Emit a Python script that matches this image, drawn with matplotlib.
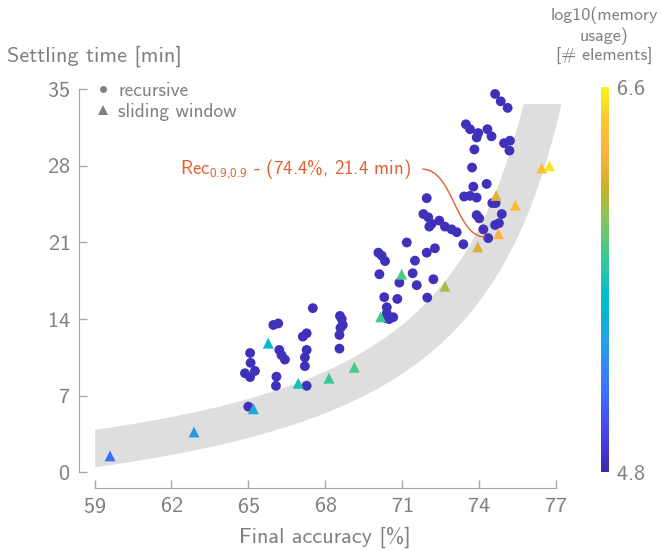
import numpy as np
import matplotlib
matplotlib.use('Agg')
import matplotlib.pyplot as plt
from matplotlib.colors import LinearSegmentedColormap
from matplotlib.path import Path
from matplotlib.patches import PathPatch
from matplotlib.lines import Line2D

plt.rcParams['font.family'] = 'cmss10'
plt.rcParams['mathtext.fontset'] = 'custom'
plt.rcParams['mathtext.rm'] = 'cmss10'
plt.rcParams['axes.unicode_minus'] = False
plt.rcParams['axes.formatter.use_mathtext'] = True

GREY = '#808080'
SPINE = '#a6a6a6'
ORANGE = '#e2602c'

# recursive configurations (accuracy %, settling time min)
rec_acc = [65.0, 66.08, 67.28, 67.52, 65.98, 66.17, 68.58, 68.69, 68.56, 67.13,
           67.28, 66.21, 66.3, 66.43, 67.28, 67.21, 67.21, 65.07, 65.09, 64.87,
           65.07, 65.26, 66.1, 68.56, 68.65, 68.6,
           71.97, 71.84, 72.03, 72.07, 72.16, 72.46, 72.68, 72.94, 73.14, 73.4,
           71.19, 70.08, 70.21, 70.34, 71.97, 72.29, 71.51, 70.12, 71.42, 70.9,
           71.58, 72.23, 70.31, 70.82, 71.99, 70.41, 70.41, 70.38, 70.66, 70.5,
           73.79, 74.31, 73.43, 73.66, 73.92, 73.92, 74.02, 74.18, 74.37,
           74.64, 74.86, 75.13, 73.5, 73.66, 73.98, 73.92, 74.34, 74.5, 74.99,
           75.22, 75.2, 73.83, 73.74, 74.53, 74.66, 74.9, 74.64, 74.79]
rec_time = [6.0, 7.9, 7.9, 15.0, 13.46, 13.6, 14.29, 13.46, 12.55, 12.4,
            12.7, 11.18, 10.7, 10.3, 11.18, 10.5, 9.7, 10.9, 10.0, 9.05,
            8.7, 9.26, 8.74, 11.3, 14.0, 13.2,
            25.05, 23.6, 23.3, 22.45, 22.7, 23.0, 22.45, 22.2, 21.94, 20.84,
            21.0, 20.07, 19.8, 19.3, 20.07, 20.47, 19.34, 18.1, 18.19, 17.33,
            17.1, 17.64, 16.0, 15.84, 15.96, 15.08, 14.53, 14.08, 14.17, 14.0,
            26.1, 26.35, 25.2, 25.26, 25.1, 23.5, 23.2, 22.2, 21.4,
            34.57, 33.9, 33.3, 31.8, 31.35, 31.0, 30.6, 31.35, 30.7, 30.07,
            30.3, 29.4, 29.5, 27.85, 24.6, 24.6, 23.6, 22.6, 22.76]
rec_mem = [4.85] * len(rec_acc)

# sliding window configurations
sw_acc = [59.6, 62.88, 65.2, 65.78, 66.95, 68.15, 69.14, 70.99, 72.68, 70.17,
          73.96, 74.77, 74.68, 75.43, 76.46, 76.76]
sw_time = [1.5, 3.68, 5.8, 11.8, 8.13, 8.6, 9.6, 18.1, 17.0, 14.2,
           20.6, 21.8, 25.3, 24.4, 27.8, 28.0]
sw_mem = [5.16, 5.38, 5.48, 5.57, 5.7, 5.8, 5.83, 5.86, 6.06, 5.82,
          6.17, 6.31, 6.2, 6.35, 6.37, 6.55]

x_ticks = [59, 62, 65, 68, 71, 74, 77]
y_ticks = [0, 7, 14, 21, 28, 35]
mem_min, mem_max = 4.8, 6.6

cmap = LinearSegmentedColormap.from_list('mem', [
    (0.0, '#3b2aa8'), (0.1, '#4a44e8'), (0.2, '#3d6cff'), (0.32, '#2a9ae8'),
    (0.45, '#00bccf'), (0.57, '#3fca8e'), (0.66, '#86c65a'), (0.74, '#c9b22e'),
    (0.83, '#fdb241'), (0.92, '#f9c830'), (1.0, '#f8f51c')])

fig = plt.figure(figsize=(6.63, 5.5), dpi=100)
ax = fig.add_axes([0.1428, 0.1413, 0.6951, 0.6964])

# grey guide band
xb = np.linspace(59, 77.2, 400)
upper = np.minimum(-2.95 + 141.8 / (79.6 - xb), 33.7)
lower = -6.76 + 161.3 / (81.2 - xb)
ax.fill_between(xb, lower, upper, where=upper >= lower, color='#dedede',
                lw=0, clip_on=False, zorder=1)

sc = ax.scatter(rec_acc, rec_time, c=rec_mem, cmap=cmap, vmin=mem_min, vmax=mem_max,
                marker='o', s=50, lw=0, zorder=3)
ax.scatter(sw_acc, sw_time, c=sw_mem, cmap=cmap, vmin=mem_min, vmax=mem_max,
           marker='^', s=62, lw=0, zorder=4)

# annotation of the chosen configuration
ax.text(62.33, 27.7, r'Rec$_{\mathrm{0.9{,}0.9}}$ - (74.4%, 21.4 min)', color=ORANGE,
        fontsize=13.6, ha='left', va='center')
curve = Path([(71.8, 27.7), (73.0, 27.7), (73.1, 21.5), (74.25, 21.5)],
             [Path.MOVETO, Path.CURVE4, Path.CURVE4, Path.CURVE4])
ax.add_patch(PathPatch(curve, fc='none', ec=ORANGE, lw=1, zorder=5))

ax.set_xlim(59, 77)
ax.set_ylim(0, 35)
ax.set_xticks(x_ticks)
ax.set_yticks(y_ticks)
for side in ['top', 'right']:
    ax.spines[side].set_visible(False)
for side in ['left', 'bottom']:
    ax.spines[side].set_position(('outward', 11.5))
    ax.spines[side].set_color(SPINE)
ax.tick_params(direction='in', length=6, width=1, color=SPINE, labelcolor=GREY,
               labelsize=16, pad=6)

fig.text(7 / 663, 1 - 56 / 550, 'Settling time [min]', color=GREY, fontsize=16,
         ha='left', va='center')
fig.text(325 / 663, 1 - 537 / 550, 'Final accuracy [%]', color=GREY, fontsize=16,
         ha='center', va='center')

handles = [Line2D([], [], ls='none', marker='o', ms=5, color=GREY, mew=0),
           Line2D([], [], ls='none', marker='^', ms=7.5, color=GREY, mew=0)]
ax.legend(handles, ['recursive', 'sliding window'], loc='upper left',
          bbox_to_anchor=(-0.035, 1.065), frameon=False, handlelength=0.7,
          handletextpad=0.45, labelspacing=0.15, fontsize=14, labelcolor=GREY)

cax = fig.add_axes([0.9065, 0.1413, 0.0125, 0.7])
cb = fig.colorbar(sc, cax=cax)
cb.outline.set_visible(False)
cb.set_ticks([mem_min, mem_max])
cb.ax.tick_params(length=0, labelsize=16, labelcolor=GREY, pad=5)
fig.text(604 / 663, 1 - 36 / 550, 'log10(memory\nusage)\n[# elements]', color=GREY,
         fontsize=13, ha='center', va='center', linespacing=1.25)

fig.savefig('out.png', dpi=100)
